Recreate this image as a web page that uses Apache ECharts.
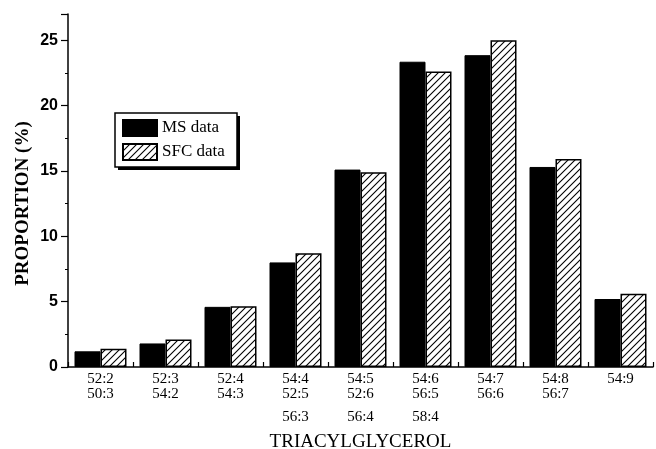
<!DOCTYPE html>
<html><head><meta charset="utf-8">
<script src="https://cdn.jsdelivr.net/npm/echarts@6/dist/echarts.min.js"></script>
<style>html,body{margin:0;padding:0;background:#fff}#c{width:656px;height:449px}</style>
</head><body><div id="c"></div>
<script>
const categories = ['52:2\n50:3', '52:3\n54:2', '52:4\n54:3', '54:4\n52:5\n{c|56:3}', '54:5\n52:6\n{c|56:4}', '54:6\n56:5\n{c|58:4}', '54:7\n56:6', '54:8\n56:7', '54:9'];
const msData = [1.2, 1.8, 4.6, 8.0, 15.1, 23.35, 23.85, 15.3, 5.2];
const sfcData = [1.4, 2.1, 4.65, 8.7, 14.9, 22.6, 25.0, 15.9, 5.6];
const yTicks = [0, 5, 10, 15, 20, 25];

function hatch() {
  const c = document.createElement('canvas');
  c.width = 7; c.height = 7;
  const g = c.getContext('2d');
  g.fillStyle = '#fff'; g.fillRect(0, 0, 7, 7);
  g.strokeStyle = '#000'; g.lineWidth = 1.1;
  g.beginPath();
  g.moveTo(-1, 8); g.lineTo(8, -1);
  g.moveTo(-1, 1); g.lineTo(1, -1);
  g.moveTo(6, 8); g.lineTo(8, 6);
  g.stroke();
  return c;
}
const serif = '"Liberation Serif", "Times New Roman", serif';
const chart = echarts.init(document.getElementById('c'));
chart.setOption({
  animation: false,
  backgroundColor: '#fff',
  grid: { left: 68, right: 3, top: 14, bottom: 82, outerBoundsMode: 'none', containLabel: false },
  graphic: [
    { type: 'rect', z: 0, silent: true, shape: { x: 118, y: 116, width: 122, height: 54 }, style: { fill: '#000' } },
    { type: 'rect', z: 1, silent: true, shape: { x: 115, y: 113, width: 122, height: 54 }, style: { fill: '#fff', stroke: '#000', lineWidth: 1.5 } }
  ],
  legend: {
    left: 122, top: 119, orient: 'vertical', z: 10,
    itemWidth: 34, itemHeight: 16, itemGap: 6,
    padding: 0,
    textStyle: { fontFamily: serif, fontSize: 17, color: '#000' },
    data: [{ name: 'MS data', icon: 'rect' }, { name: 'SFC data', icon: 'rect' }]
  },
  xAxis: {
    type: 'category', data: categories,
    name: 'TRIACYLGLYCEROL', nameLocation: 'middle', nameGap: 66, nameMoveOverlap: false,
    nameTextStyle: { fontFamily: serif, fontSize: 19, color: '#000' },
    axisLine: { lineStyle: { color: '#000', width: 1.5 } },
    axisTick: { show: true, length: 5, inside: true, lineStyle: { color: '#000', width: 1.2 } },
    axisLabel: { interval: 0, margin: 5, fontFamily: serif, fontSize: 15, color: '#000', lineHeight: 15,
      rich: { c: { fontFamily: serif, fontSize: 15, color: '#000', lineHeight: 30 } } }
  },
  yAxis: [{
    type: 'value', min: 0, max: 27, interval: 5,
    name: 'PROPORTION (%)', nameLocation: 'middle', nameGap: 35, nameRotate: 90, nameMoveOverlap: false,
    nameTextStyle: { fontFamily: serif, fontSize: 19, fontWeight: 'bold', color: '#000', padding: [0, 0, 0, -26] },
    axisLine: { show: true, lineStyle: { color: '#000', width: 1.5 } },
    axisTick: { show: true, length: 7, lineStyle: { color: '#000', width: 1.2 } },
    splitLine: { show: false },
    axisLabel: { margin: 10, fontFamily: '"Liberation Sans", Arial, sans-serif', fontWeight: 'bold', fontSize: 16, color: '#000',
      formatter: v => yTicks.indexOf(v) >= 0 ? String(v) : '' }
  }, {
    type: 'value', min: 0, max: 27, interval: 2.5, position: 'left',
    axisLine: { show: false }, axisLabel: { show: false }, splitLine: { show: false },
    axisTick: { show: true, length: 3, lineStyle: { color: '#000', width: 1 } }
  }],
  series: [
    { name: 'MS data', type: 'bar', data: msData, barGap: '0%', barCategoryGap: '20%',
      itemStyle: { color: '#000', borderColor: '#000', borderWidth: 1 } },
    { name: 'SFC data', type: 'bar', data: sfcData,
      itemStyle: { color: { image: hatch(), repeat: 'repeat' }, borderColor: '#000', borderWidth: 1.5 } }
  ]
});
</script></body></html>
